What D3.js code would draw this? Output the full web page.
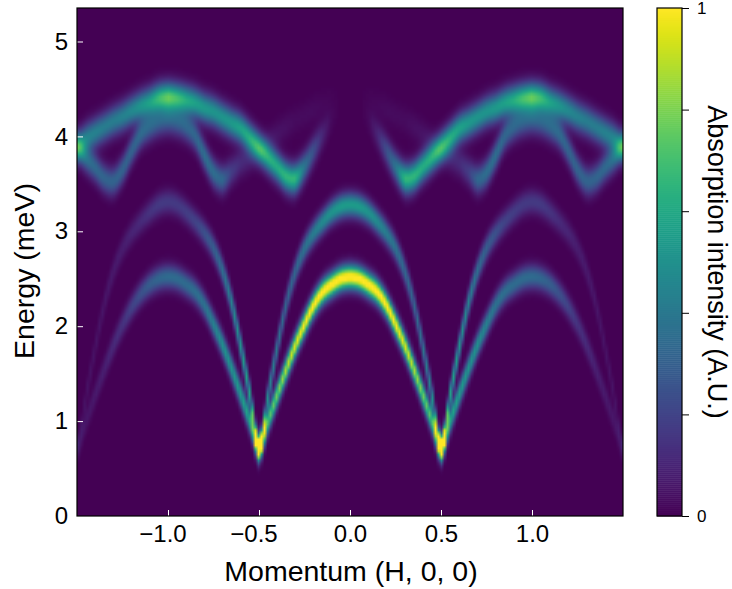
<!DOCTYPE html>
<html>
<head>
<meta charset="utf-8">
<script src="https://cdn.jsdelivr.net/npm/d3@7"></script>
<style>
  body { margin: 0; background: #fff; }
  svg { display: block; font-family: "Liberation Sans", Arial, sans-serif; }
</style>
</head>
<body>
<svg width="732" height="589"></svg>
<script>
// ridge positions, the map is mirror symmetric around H = 0
const momentum = [0, .05, .1, .15, .2, .25, .3, .35, .4, .45, .5, .55, .6, .65, .7, .75, .8, .85, .9, .95, 1, 1.05, 1.1, 1.15, 1.2, 1.25, 1.3, 1.35, 1.4, 1.45, 1.5];

const lowerEnergy = [2.52, 2.5, 2.44, 2.36, 2.22, 2.02, 1.8, 1.55, 1.28, 1, .72, 1, 1.28, 1.55, 1.8, 2.02, 2.22, 2.36, 2.44, 2.5, 2.52, 2.5, 2.44, 2.34, 2.2, 2.02, 1.8, 1.55, 1.28, 1, .72];
const lowerAmp = [1.05, 1.05, 1.05, 1.05, 1.03, 1, .95, .88, .78, .72, .9, .6, .55, .52, .5, .44, .38, .36, .35, .35, .35, .33, .3, .25, .2, .15, .12, .09, .07, .06, .05];

const upperEnergy = [3.28, 3.26, 3.2, 3.1, 2.98, 2.82, 2.58, 2.24, 1.78, 1.27, .72, 1.27, 1.78, 2.24, 2.58, 2.82, 2.98, 3.1, 3.2, 3.28, 3.31, 3.28, 3.2, 3.1, 2.98, 2.82, 2.58, 2.24, 1.78, 1.27, .7];
const upperAmp = [.55, .55, .52, .48, .42, .38, .33, .32, .38, .46, .85, .58, .52, .44, .36, .3, .25, .2, .18, .17, .17, .17, .15, .12, .1, .08, .07, .06, .05, .05, .04];

const topEnergy = [4.35, 4.3, 4.18, 4.02, 3.85, 3.68, 3.56, 3.58, 3.68, 3.78, 3.88, 3.98, 4.08, 4.14, 4.2, 4.26, 4.3, 4.35, 4.38, 4.4, 4.41, 4.4, 4.36, 4.32, 4.27, 4.21, 4.16, 4.1, 4.04, 3.98, 3.9];
const topAmp = [0, 0, .02, .1, .24, .38, .66, .66, .62, .64, .66, .63, .58, .54, .52, .52, .54, .57, .62, .7, .76, .68, .57, .52, .47, .44, .42, .42, .44, .44, .4];

const midEnergy = [4.45, 4.43, 4.4, 4.34, 4.28, 4.22, 4.17, 4.1, 4.02, 3.93, 3.84, 3.78, 3.72, 3.63, 3.55, 3.62, 3.8, 4, 4.1, 4.15, 4.17, 4.15, 4.1, 4.02, 3.85, 3.65, 3.53, 3.56, 3.67, 3.77, 3.88];
const midAmp = [0, 0, .01, .02, .03, .03, .03, .04, .05, .06, .08, .1, .12, .18, .33, .36, .36, .33, .32, .3, .3, .3, .32, .34, .32, .32, .32, .32, .34, .36, .38];

// energy width of each band
const bandWidths = [.085, .085, .105, .1];

const xTicks = [-1, -0.5, 0, 0.5, 1];
const yTicks = [0, 1, 2, 3, 4, 5];
const colorTicks = [0, 0.2, 0.4, 0.6, 0.8, 1];
const colorTickLabels = ['0', '', '', '', '', '1'];

const svg = d3.select('svg');

const plot = { left: 77, right: 623, top: 8, bottom: 516 };
const bar = { left: 657, right: 682 };
const cell = 3; // the map is coarser than the screen

const x = d3.scaleLinear().domain([-1.5, 1.5]).range([plot.left, plot.right]);
const y = d3.scaleLinear().domain([0, 5.353]).range([plot.bottom, plot.top]);
const color = d3.scaleSequential(d3.interpolateViridis).domain([0, 1]).clamp(true);

// catmull-rom lookup along the momentum grid, keeps the ridges free of kinks
const ridge = (values) => {
  const step = momentum[1] - momentum[0];
  return (q) => {
    const t = Math.min(q / step, values.length - 1.001);
    const i = Math.floor(t);
    const f = t - i;
    const p0 = values[Math.max(i - 1, 0)];
    const p1 = values[i];
    const p2 = values[i + 1];
    const p3 = values[Math.min(i + 2, values.length - 1)];
    return 0.5 * (2 * p1 + (p2 - p0) * f + (2 * p0 - 5 * p1 + 4 * p2 - p3) * f * f + (3 * p1 - p0 - 3 * p2 + p3) * f * f * f);
  };
};

const bands = [
  [lowerEnergy, lowerAmp],
  [upperEnergy, upperAmp],
  [topEnergy, topAmp],
  [midEnergy, midAmp]
].map(([e, a], i) => ({
  energy: ridge(e),
  amp: d3.scaleLinear().domain(momentum).range(a),
  width: bandWidths[i]
}));

// heat map, painted on a canvas and placed in the svg
const w = plot.right - plot.left;
const h = plot.bottom - plot.top;
const nx = Math.round(w / cell);
const ny = Math.round(h / cell);
const canvas = document.createElement('canvas');
canvas.width = nx;
canvas.height = ny;
const ctx = canvas.getContext('2d');
const img = ctx.createImageData(nx, ny);
for (let j = 0; j < ny; j++) {
  const en = y.invert(plot.top + (j + 0.5) * h / ny);
  for (let i = 0; i < nx; i++) {
    const q = Math.abs(x.invert(plot.left + (i + 0.5) * w / nx));
    let sum = 0;
    bands.forEach(b => {
      const d = (en - b.energy(q)) / b.width;
      sum += b.amp(q) * Math.exp(-d * d / 2);
    });
    const c = d3.rgb(color(sum));
    const k = (j * nx + i) * 4;
    img.data[k] = c.r;
    img.data[k + 1] = c.g;
    img.data[k + 2] = c.b;
    img.data[k + 3] = 255;
  }
}
ctx.putImageData(img, 0, 0);

svg.append('image')
  .attr('x', plot.left)
  .attr('y', plot.top)
  .attr('width', w)
  .attr('height', h)
  .attr('preserveAspectRatio', 'none')
  .attr('href', canvas.toDataURL());

// axes
const xAxisG = svg.append('g')
  .attr('transform', `translate(0,${plot.bottom})`)
  .call(d3.axisBottom(x).tickValues(xTicks).tickSize(-6).tickPadding(9).tickFormat(d3.format('.1f')));
const yAxisG = svg.append('g')
  .attr('transform', `translate(${plot.left},0)`)
  .call(d3.axisLeft(y).tickValues(yTicks).tickSize(-6).tickPadding(9).tickFormat(d3.format('d')));

[xAxisG, yAxisG].forEach(g => {
  g.select('.domain').remove();
  g.selectAll('.tick line').attr('stroke', '#fff').attr('stroke-width', 1);
  g.selectAll('.tick text').attr('fill', '#000').attr('font-size', 24);
});
// negative labels sit a little left of their ticks
xAxisG.selectAll('.tick text').attr('dx', d => d < 0 ? -5.5 : 0);

svg.append('rect')
  .attr('x', plot.left)
  .attr('y', plot.top)
  .attr('width', w)
  .attr('height', h)
  .attr('fill', 'none')
  .attr('stroke', '#000')
  .attr('stroke-width', 1.2);

svg.append('text')
  .attr('x', 351)
  .attr('y', 581)
  .attr('text-anchor', 'middle')
  .attr('font-size', 28.5)
  .text('Momentum (H, 0, 0)');

svg.append('text')
  .attr('transform', `translate(34,271) rotate(-90)`)
  .attr('text-anchor', 'middle')
  .attr('font-size', 28.5)
  .text('Energy (meV)');

// colorbar
const cScale = d3.scaleLinear().domain([0, 1]).range([plot.bottom, plot.top]);
const steps = d3.range(0, 1, 1 / 256);
svg.append('g').selectAll('rect').data(steps)
  .enter().append('rect')
  .attr('x', bar.left)
  .attr('width', bar.right - bar.left)
  .attr('y', d => cScale(d + 1 / 256))
  .attr('height', d => cScale(d) - cScale(d + 1 / 256) + 0.5)
  .attr('fill', d => color(d + 0.5 / 256));

const cAxisG = svg.append('g')
  .attr('transform', `translate(${bar.right},0)`)
  .call(d3.axisRight(cScale).tickValues(colorTicks).tickSize(7).tickPadding(8)
    .tickFormat((d, i) => colorTickLabels[i]));
cAxisG.select('.domain').remove();
cAxisG.selectAll('.tick line').attr('stroke', '#000').attr('stroke-width', 1);
cAxisG.selectAll('.tick text').attr('fill', '#000').attr('font-size', 17);

svg.append('rect')
  .attr('x', bar.left)
  .attr('y', plot.top)
  .attr('width', bar.right - bar.left)
  .attr('height', h)
  .attr('fill', 'none')
  .attr('stroke', '#000')
  .attr('stroke-width', 1.2);

svg.append('text')
  .attr('transform', `translate(708,262) rotate(90)`)
  .attr('text-anchor', 'middle')
  .attr('font-size', 27)
  .text('Absorption intensity (A.U.)');
</script>
</body>
</html>
